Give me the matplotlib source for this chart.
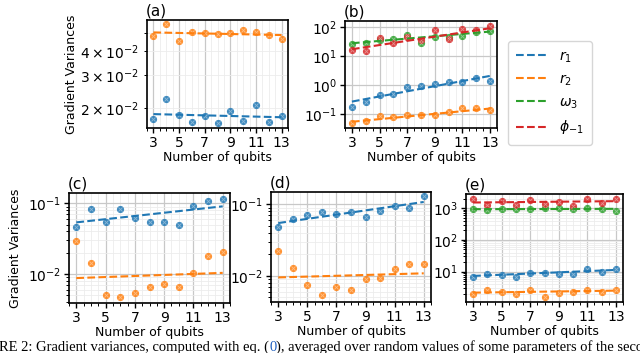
import numpy as np
import matplotlib
matplotlib.use("Agg")
import matplotlib.pyplot as plt
from matplotlib.ticker import MultipleLocator, LogLocator

# number of qubits
qubits = np.arange(3, 14)

# (a) variances
a_r1 = [1.75e-2, 2.24e-2, 1.82e-2, 1.68e-2, 1.81e-2, 1.66e-2, 1.93e-2, 1.70e-2, 2.06e-2, 1.68e-2, 1.81e-2]
a_r2 = [4.83e-2, 5.58e-2, 4.55e-2, 5.08e-2, 4.98e-2, 4.92e-2, 5.02e-2, 5.19e-2, 5.04e-2, 4.88e-2, 4.66e-2]
a_fit_r1 = [1.85e-2, 1.78e-2]   # fit value at 3 and at 13 qubits
a_fit_r2 = [5.04e-2, 4.88e-2]

# (b) variances
b_r1 = [0.171, 0.26, 0.453, 0.49, 0.83, 0.95, 1.11, 1.23, 1.23, 1.79, 1.41]
b_r2 = [0.048, 0.059, 0.086, 0.079, 0.093, 0.091, 0.093, 0.115, 0.166, 0.166, 0.135]
b_w3 = [25.6, 27.8, 35.2, 38.1, 52.3, 28.5, 45.8, 45.8, 49.6, 64.5, 71.7]
b_phi = [16.0, 14.4, 42.3, 27.0, 45.8, 35.2, 79.7, 37.0, 84.0, 77.6, 109.0]
b_fit_r1 = [0.267, 2.04]
b_fit_r2 = [0.054, 0.154]
b_fit_w3 = [27.0, 68.0]
b_fit_phi = [16.8, 88.6]

# (c) variances
c_r1 = [0.0457, 0.084, 0.055, 0.083, 0.0614, 0.0538, 0.0545, 0.0489, 0.0927, 0.108, 0.115]
c_r2 = [0.0297, 0.0142, 0.0051, 0.00478, 0.00544, 0.00655, 0.00714, 0.00648, 0.01045, 0.018, 0.0203]
c_fit_r1 = [0.0538, 0.0907]
c_fit_r2 = [0.00878, 0.0104]

# (d) variances
d_r1 = [0.048, 0.0617, 0.072, 0.0794, 0.0736, 0.0777, 0.0667, 0.082, 0.0947, 0.0887, 0.131]
d_r2 = [0.022, 0.0129, 0.0075, 0.0053, 0.007, 0.0063, 0.0089, 0.0094, 0.0125, 0.0147, 0.0145]
d_fit_r1 = [0.0547, 0.108]
d_fit_r2 = [0.00946, 0.0108]

# (e) variances
e_r1 = [6.95, 8.4, 7.66, 6.62, 9.3, 9.3, 8.2, 8.6, 12.1, 9.76, 12.1]
e_r2 = [1.92, 2.58, 2.22, 2.02, 2.58, 1.63, 2.07, 2.33, 2.58, 2.28, 2.64]
e_w3 = [930, 886, 930, 930, 930, 1000, 1000, 930, 1050, 953, 844]
e_phi = [1972, 1274, 1705, 1274, 1789, 1337, 1623, 1157, 1972, 1510, 1972]
e_fit_r1 = [7.3, 11.3]
e_fit_r2 = [2.17, 2.51]
e_fit_w3 = [930, 953]
e_fit_phi = [1510, 1663]

labels = [r"$r_1$", r"$r_2$", r"$\omega_3$", r"$\phi_{-1}$"]
colors = ["#1f77b4", "#ff7f0e", "#2ca02c", "#d62728"]

W, H = 640, 353
fig = plt.figure(figsize=(W / 100, H / 100), dpi=100)


def box(l, t, r, b):
    # pixel box -> figure fraction
    return [l / W, 1 - b / H, (r - l) / W, (b - t) / H]


def panel(rect, title, series, fits, ylim, ylab_x=None):
    ax = fig.add_axes(rect)
    ax.set_yscale("log")
    ends = [qubits[0], qubits[-1]]
    lines = []
    for i, (vals, fit) in enumerate(zip(series, fits)):
        c = colors[i]
        ax.plot(qubits, vals, "o", color=c, ms=5.2, alpha=0.85, mew=0, zorder=3)
        ax.plot(qubits, vals, "x", color="white", ms=3.2, mew=0.6, alpha=0.4, zorder=4)
        ln, = ax.plot(ends, fit, "--", color=c, lw=1.5, zorder=5, label=labels[i])
        lines.append(ln)
    ax.set_xlim(2.5, 13.5)
    ax.set_ylim(*ylim)
    # every decade gets a labelled tick
    ax.yaxis.set_major_locator(LogLocator(base=10, numticks=12))
    ax.set_xticks([3, 5, 7, 9, 11, 13])
    ax.xaxis.set_minor_locator(MultipleLocator(0.5))
    ax.grid(which="major", color="#c8c8c8", lw=0.9)
    ax.grid(which="minor", color="#ececec", lw=0.6)
    ax.set_axisbelow(True)
    for s in ax.spines.values():
        s.set_color("black")
        s.set_linewidth(1.2)
    ax.tick_params(which="major", labelsize=10, length=3.5, width=1.0, pad=2)
    ax.tick_params(which="minor", length=2, width=0.7)
    ax.set_xlabel("Number of qubits", fontsize=9, labelpad=1)
    if ylab_x is not None:
        ax.set_ylabel("Gradient Variances", fontsize=9)
        ax.yaxis.set_label_coords(ylab_x, 0.5)
    ax.set_title(title, loc="left", fontsize=11, pad=3, x=-0.01)
    return ax, lines


panel(box(147, 20, 288, 128), "(a)", [a_r1, a_r2], [a_fit_r1, a_fit_r2], (1.56e-2, 5.87e-2),
      ylab_x=(78 - 147) / 141)
axb, lines = panel(box(345, 21, 497, 128), "(b)", [b_r1, b_r2, b_w3, b_phi],
                   [b_fit_r1, b_fit_r2, b_fit_w3, b_fit_phi], (0.033, 157))
panel(box(69, 193, 230, 303), "(c)", [c_r1, c_r2], [c_fit_r1, c_fit_r2], (0.0039, 0.14),
      ylab_x=(22 - 69) / 161)
panel(box(271, 192, 431, 302), "(d)", [d_r1, d_r2], [d_fit_r1, d_fit_r2], (0.00428, 0.149))
panel(box(466, 194, 623, 302), "(e)", [e_r1, e_r2, e_w3, e_phi],
      [e_fit_r1, e_fit_r2, e_fit_w3, e_fit_phi], (1.1, 2800))

fig.legend(handles=lines, loc="upper left", bbox_to_anchor=(501 / W, 1 - 34 / H),
           fontsize=10, frameon=True, handlelength=2.3, labelspacing=0.55,
           borderpad=0.6, handletextpad=0.8, edgecolor="#cccccc")

# caption strip, cut by the picture edge
fig.canvas.draw()
rend = fig.canvas.get_renderer()
cap = ["RE 2: Gradient variances, computed with eq. (", "0",
       "), averaged over random values of some parameters of the second"]
cap_col = ["black", "#1f5fbf", "black"]
x = -1.0
for txt, col in zip(cap, cap_col):
    t = fig.text(x / W, 2.0 / H, txt, color=col, fontsize=10.5,
                 family="Liberation Serif", va="baseline", ha="left")
    x = t.get_window_extent(rend).x1

fig.savefig("out.png", dpi=100)
